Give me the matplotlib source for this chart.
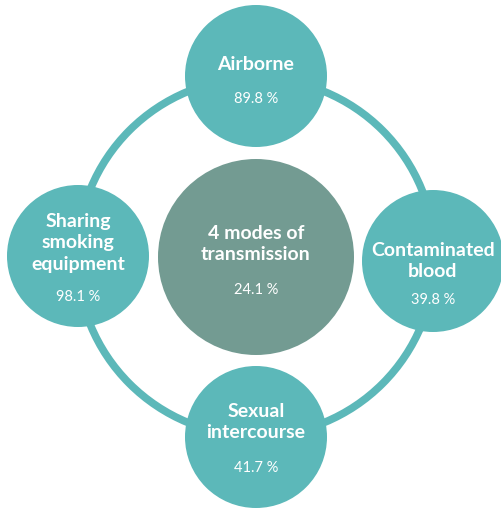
import matplotlib
import matplotlib.pyplot as plt
from matplotlib.patches import Circle

matplotlib.use("Agg")

# node data (clockwise from top)
labels = ["Airborne", "Contaminated\nblood", "Sexual\nintercourse", "Sharing\nsmoking\nequipment"]
values = [89.8, 39.8, 41.7, 98.1]
center_label = "4 modes of\ntransmission"
center_value = 24.1

teal = "#5cb8b9"
grey_green = "#739b92"

# layout in pixel coordinates (y down)
cx, cy = 256, 258
ring_r = 179
node_r = 71
hub_r = 98
node_pos = [(256, 77), (433, 262), (256, 438), (78, 257)]
label_dy = [-13, -1, -16, -14]
value_dy = [22, 38, 30, 40]

plt.rcParams["font.family"] = ["Lato", "DejaVu Sans"]

fig = plt.figure(figsize=(5.02, 5.10), dpi=100)
ax = fig.add_axes([0, 0, 1, 1])
ax.set_xlim(0, 502)
ax.set_ylim(510, 0)
ax.set_aspect("equal")
ax.axis("off")

# ring joining the nodes
ax.add_patch(Circle((cx, cy), ring_r, fill=False, edgecolor=teal, linewidth=5.5, zorder=1))

# hub
ax.add_patch(Circle((cx, cy), hub_r, facecolor=grey_green, edgecolor="none", zorder=2))
ax.text(cx, cy - 14, center_label, ha="center", va="center", color="white",
        fontsize=14, fontweight="bold", linespacing=1.35, zorder=3)
ax.text(cx, cy + 32, f"{center_value} %", ha="center", va="center", color="white",
        fontsize=10.5, fontweight="normal", zorder=3)

for (x, y), lab, val, ldy, vdy in zip(node_pos, labels, values, label_dy, value_dy):
    ax.add_patch(Circle((x, y), node_r, facecolor=teal, edgecolor="none", zorder=2))
    ax.text(x, y + ldy, lab, ha="center", va="center", color="white",
            fontsize=14, fontweight="bold", linespacing=1.35, zorder=3)
    ax.text(x, y + vdy, f"{val} %", ha="center", va="center", color="white",
            fontsize=10.5, fontweight="normal", zorder=3)

fig.savefig("out.png", dpi=100)
plt.close(fig)
